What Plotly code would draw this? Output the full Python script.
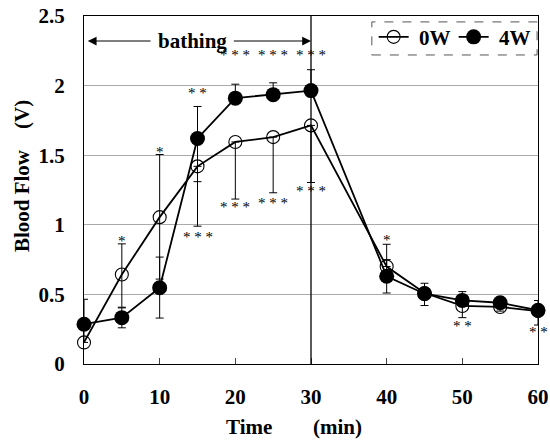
import plotly.graph_objects as go

# ---- data ----
time_min = [0, 5, 10, 15, 20, 25, 30, 40, 45, 50, 55, 60]
flow_0w = [0.155, 0.643, 1.055, 1.42, 1.595, 1.63, 1.714, 0.70, 0.51, 0.417, 0.41, 0.38]
flow_4w = [0.286, 0.333, 0.548, 1.62, 1.91, 1.935, 1.964, 0.63, 0.505, 0.457, 0.44, 0.386]
err_0w_plus = [0.31, 0.22, 0.45, 0, 0, 0, 0, 0.16, 0, 0, 0, 0]
err_0w_minus = [0, 0.235, 0.445, 0.11, 0.41, 0.40, 0.41, 0, 0, 0.084, 0, 0.10]
err_4w_plus = [0, 0.07, 0.22, 0.23, 0.10, 0.085, 0.15, 0.12, 0.075, 0.063, 0.04, 0.07]
err_4w_minus = [0, 0.073, 0.218, 0.63, 0, 0, 0, 0.12, 0.085, 0, 0.06, 0]

star_x = [5, 10, 15, 15, 20, 20, 25, 25, 30, 30, 40, 50, 60]
star_y = [0.883, 1.524, 1.95, 0.914, 2.22, 1.13, 2.22, 1.16, 2.22, 1.24, 0.89, 0.274, 0.229]
star_text = ["*", "*", "* *", "* * *", "* * *", "* * *", "* * *", "* * *", "* * *", "* * *", "*", "* *", "* *"]

series_names = ["\u00a00W", "\u00a04W"]
x_ticks = [0, 10, 20, 30, 40, 50, 60]
y_ticks = [0, 0.5, 1, 1.5, 2, 2.5]
bathing_start, bathing_end, bathing_level = 0, 30, 2.32

SERIF = "Liberation Serif, Times New Roman, serif"
bold_font = dict(family=SERIF, size=21, color="black", weight="bold")

fig = go.Figure()
fig.add_trace(go.Scatter(
    x=time_min, y=flow_0w, name=series_names[0], mode="lines+markers",
    line=dict(color="black", width=1.8),
    marker=dict(symbol="circle-open", size=13, color="black", line=dict(width=1.1)),
    error_y=dict(type="data", symmetric=False, array=err_0w_plus, arrayminus=err_0w_minus,
                 color="black", thickness=1, width=4),
    cliponaxis=False,
))
fig.add_trace(go.Scatter(
    x=time_min, y=flow_4w, name=series_names[1], mode="lines+markers",
    line=dict(color="black", width=1.8),
    marker=dict(symbol="circle", size=15, color="black"),
    error_y=dict(type="data", symmetric=False, array=err_4w_plus, arrayminus=err_4w_minus,
                 color="black", thickness=1, width=4),
    cliponaxis=False,
))

# vertical line at end of bathing
fig.add_shape(type="line", xref="x", yref="y", x0=bathing_end, x1=bathing_end, y0=0, y1=2.5,
              line=dict(color="black", width=1.3))

# significance stars
for sx, sy, st in zip(star_x, star_y, star_text):
    fig.add_annotation(x=sx, y=sy, text=st, showarrow=False, xanchor="center", yanchor="middle",
                       font=dict(family=SERIF, size=15, color="black"))

# bathing arrows + label
fig.add_annotation(x=bathing_start + 0.5, y=bathing_level, ax=9.0, ay=bathing_level,
                   axref="x", ayref="y", text="", showarrow=True, arrowhead=2,
                   arrowsize=1.6, arrowwidth=1.1, arrowcolor="black", standoff=0)
fig.add_annotation(x=bathing_end, y=bathing_level, ax=19.6, ay=bathing_level,
                   axref="x", ayref="y", text="", showarrow=True, arrowhead=2,
                   arrowsize=1.6, arrowwidth=1.1, arrowcolor="black", standoff=0)
fig.add_annotation(x=14.3, y=bathing_level, text="bathing", showarrow=False,
                   xanchor="center", yanchor="middle", font=bold_font)

# axis titles
fig.add_annotation(xref="paper", yref="paper", x=-0.1366, y=0.54,
                   text="Blood Flow\u00a0\u00a0\u00a0\u00a0(V)",
                   textangle=-90, showarrow=False, xanchor="center", yanchor="middle", font=bold_font)
fig.add_annotation(xref="paper", yref="paper", x=0.3645, y=-0.182, text="Time",
                   showarrow=False, xanchor="center", yanchor="middle", font=bold_font)
fig.add_annotation(xref="paper", yref="paper", x=0.559, y=-0.182, text="(min)",
                   showarrow=False, xanchor="center", yanchor="middle", font=bold_font)

# dashed legend frame
fig.add_shape(type="rect", xref="paper", yref="paper", x0=0.634, x1=0.998, y0=0.888, y1=0.983,
              line=dict(color="#555", width=1, dash="dash"), fillcolor="rgba(0,0,0,0)")

fig.update_layout(
    width=550, height=440,
    margin=dict(l=84, r=12, t=16, b=76, autoexpand=False),
    paper_bgcolor="white", plot_bgcolor="white",
    showlegend=True,
    legend=dict(orientation="h", x=0.638, y=0.998, xanchor="left", yanchor="top",
                font=bold_font, bgcolor="rgba(0,0,0,0)", borderwidth=0,
                entrywidth=35, entrywidthmode="pixels",
                itemsizing="trace", tracegroupgap=0),
)
fig.update_xaxes(range=[0, 60], tickvals=x_ticks, showline=True, linecolor="black", linewidth=1.2,
                 mirror=True, ticks="inside", ticklen=6, tickcolor="#444", showgrid=False,
                 zeroline=False, tickfont=bold_font, ticklabelstandoff=14)
fig.update_yaxes(range=[0, 2.5], tickvals=y_ticks, showline=True, linecolor="black", linewidth=1.2,
                 mirror=True, ticks="", showgrid=True, gridcolor="#aaaaaa", gridwidth=1,
                 zeroline=False, tickfont=bold_font, ticklabelstandoff=14)

fig.write_html("out.html", config={"displayModeBar": False},
               post_script="document.body.style.margin='0px';")
